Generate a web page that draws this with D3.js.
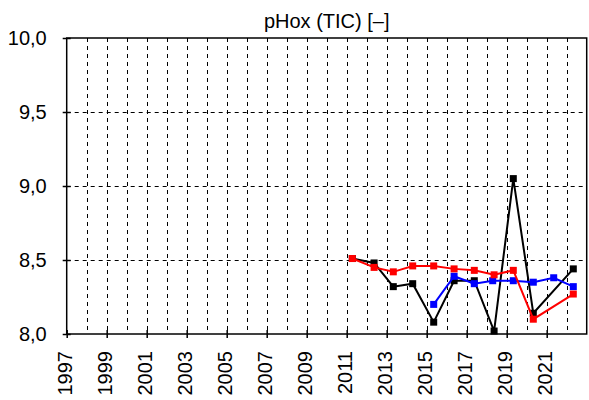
<!DOCTYPE html>
<html>
<head>
<meta charset="utf-8">
<script src="https://cdn.jsdelivr.net/npm/d3@7/dist/d3.min.js"></script>
<style>
  html, body { margin: 0; padding: 0; background: #fff; }
  svg { display: block; font-family: "Liberation Sans", Arial, sans-serif; }
</style>
</head>
<body>
<svg id="chart" width="589" height="400"></svg>
<script>
// ---- data ----
const title = "pHox (TIC) [–]";
const yTicks = [8.0, 8.5, 9.0, 9.5, 10.0];
const xTickYears = [1997, 1999, 2001, 2003, 2005, 2007, 2009, 2011, 2013, 2015, 2017, 2019, 2021];
const gridYears = [1998,1999,2000,2001,2002,2003,2004,2005,2006,2007,2008,2009,2010,2011,2012,2013,2014,2015,2016,2017,2018,2019,2020,2021,2022];

const blackDates = [2011.28, 2012.37, 2013.33, 2014.30, 2015.35, 2016.37, 2017.38, 2018.37, 2019.33, 2020.33, 2022.33];
const blackValues = [8.51, 8.48, 8.32, 8.34, 8.08, 8.36, 8.36, 8.02, 9.05, 8.14, 8.44];

const blueDates = [2015.35, 2016.37, 2017.38, 2018.30, 2019.33, 2020.33, 2021.35, 2022.33];
const blueValues = [8.20, 8.39, 8.34, 8.36, 8.36, 8.35, 8.38, 8.32];

const redDates = [2011.28, 2012.37, 2013.33, 2014.30, 2015.35, 2016.37, 2017.38, 2018.37, 2019.33, 2020.33, 2022.33];
const redValues = [8.51, 8.45, 8.42, 8.46, 8.46, 8.44, 8.43, 8.40, 8.43, 8.10, 8.27];

const series = [
  { dates: blackDates, values: blackValues, color: "#000000" },
  { dates: blueDates, values: blueValues, color: "#0000ff" },
  { dates: redDates, values: redValues, color: "#ff0000" }
];

// ---- layout ----
const svg = d3.select("#chart");
const mLeft = 66.7, mRight = 586.7, mTop = 38, mBottom = 334;
const x = d3.scaleLinear().domain([1997, 2023]).range([mLeft, mRight]);
const y = d3.scaleLinear().domain([8, 10]).range([mBottom, mTop]);
const FS = 20;

// grid
const grid = svg.append("g").attr("stroke", "#000").attr("stroke-width", 1).attr("stroke-dasharray", "4,4");
grid.selectAll("line.v").data(gridYears).join("line")
  .attr("x1", d => Math.round(x(d)) + 0.5).attr("x2", d => Math.round(x(d)) + 0.5)
  .attr("y1", mTop).attr("y2", mBottom);
grid.selectAll("line.h").data(yTicks.filter(d => d > 8 && d < 10)).join("line")
  .attr("x1", mLeft).attr("x2", mRight)
  .attr("y1", d => Math.round(y(d)) + 0.5).attr("y2", d => Math.round(y(d)) + 0.5);

// frame
svg.append("rect").attr("x", mLeft).attr("y", mTop).attr("width", mRight - mLeft).attr("height", mBottom - mTop)
  .attr("fill", "none").attr("stroke", "#000").attr("stroke-width", 1.5);

// y axis
const yAxis = d3.axisLeft(y).tickValues(yTicks).tickSize(4).tickPadding(16)
  .tickFormat(d => d3.format(".1f")(d).replace(".", ","));
const gy = svg.append("g").attr("transform", `translate(${mLeft},0)`).call(yAxis);
gy.select(".domain").remove();
gy.selectAll(".tick line").attr("x1", 4).attr("x2", -4).attr("stroke", "#000").attr("stroke-width", 1.5);
gy.selectAll(".tick text").attr("font-size", FS).attr("fill", "#000").attr("font-family", "Liberation Sans, Arial, sans-serif");

// x axis
const xAxis = d3.axisBottom(x).tickValues(xTickYears).tickSize(4).tickFormat(d3.format("d"));
const gx = svg.append("g").attr("transform", `translate(0,${mBottom})`).call(xAxis);
gx.select(".domain").remove();
gx.selectAll(".tick line").attr("y1", -4).attr("y2", 4).attr("stroke", "#000").attr("stroke-width", 1.5);
gx.selectAll(".tick text")
  .attr("font-size", FS).attr("fill", "#000").attr("font-family", "Liberation Sans, Arial, sans-serif")
  .attr("text-anchor", "end")
  .attr("transform", "rotate(-90)")
  .attr("x", -17).attr("y", 0).attr("dy", "5px");

// series
const line = d3.line().x(d => x(d[0])).y(d => y(d[1]));
series.forEach(s => {
  const pts = s.dates.map((d, i) => [d, s.values[i]]);
  const g = svg.append("g");
  g.append("path").datum(pts).attr("d", line).attr("fill", "none")
    .attr("stroke", s.color).attr("stroke-width", 2).attr("stroke-linejoin", "miter");
  g.selectAll("rect").data(pts).join("rect")
    .attr("x", d => x(d[0]) - 3.5).attr("y", d => y(d[1]) - 3.5)
    .attr("width", 7).attr("height", 7).attr("fill", s.color);
});

// title
svg.append("text").attr("x", (mLeft + mRight) / 2).attr("y", 28)
  .attr("text-anchor", "middle").attr("font-size", FS).attr("fill", "#000")
  .text(title);
</script>
</body>
</html>
